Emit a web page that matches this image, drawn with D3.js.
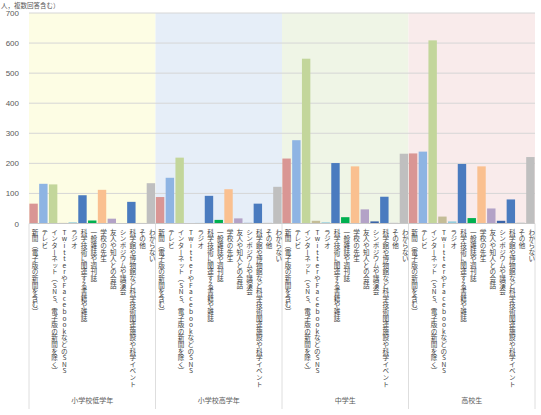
<!DOCTYPE html>
<html><head><meta charset="utf-8">
<script src="https://cdn.jsdelivr.net/npm/d3@7"></script>
<style>
html,body{margin:0;padding:0;background:#fff;}
svg{display:block;font-family:"Noto Sans CJK JP","Noto Sans",sans-serif;}
</style></head>
<body><svg id="c" width="541" height="415"></svg>
<script>
const groups = ["小学校低学年","小学校高学年","中学生","高校生"];
const categories = [
  "新聞（電子版の新聞を含む）",
  "テレビ",
  "インターネット（SNS、電子版の新聞を除く）",
  "TwitterやFacebookなどのSNS",
  "ラジオ",
  "科学技術に関連する書籍や雑誌",
  "一般雑誌や週刊誌",
  "学校の先生",
  "友人や知人との会話",
  "シンポジウムや講演会",
  "科学館や博物館など科学技術関連施設や科学イベント",
  "その他",
  "わからない"
];
const valuesLowerElem  = [66,132,130,2,4,94,10,112,16,1,72,2,134];
const valuesUpperElem  = [88,152,219,1,2,92,12,114,17,2,66,3,122];
const valuesJuniorHigh = [216,277,548,9,4,201,21,190,47,7,89,3,232];
const valuesHighSchool = [233,239,609,23,7,198,18,190,50,9,80,4,221];
const seriesValues = [valuesLowerElem, valuesUpperElem, valuesJuniorHigh, valuesHighSchool];
const yTicks = [0,100,200,300,400,500,600,700];
const unitNote = "人，複数回答含む）";

const barColors = ["#d99694","#8eb4e3","#c3d69b","#c4bd97","#93cddd","#4a7bbf","#00b050","#fac090","#b3a2c7","#3a64a8","#4a7bbf","#d9d9d9","#bfbfbf"];
const bgColors = ["#fdfde4","#e6eef8","#eff5e6","#f9ebeb"];

const svg = d3.select("#c");
const pL = 29, pR = 535, pT = 13, pB = 223.5;

const x0 = d3.scaleBand().domain(groups).range([pL, pR]).padding(0);
const x1 = d3.scaleBand().domain(categories).range([0, x0.bandwidth()]).paddingInner(0.14).paddingOuter(0.04);
const y = d3.scaleLinear().domain([0,700]).range([pB, pT]);

// backgrounds
svg.append("g").selectAll("rect").data(groups).join("rect")
  .attr("x", d => x0(d)).attr("y", pT)
  .attr("width", x0.bandwidth()).attr("height", pB - pT)
  .attr("fill", (d,i) => bgColors[i]);

// gridlines
svg.append("g").selectAll("line").data(yTicks.filter(t => t > 0)).join("line")
  .attr("x1", pL).attr("x2", pR)
  .attr("y1", d => y(d)).attr("y2", d => y(d))
  .attr("stroke", "#d6d6d6").attr("stroke-width", 1);

// y axis labels
const yAxis = d3.axisLeft(y).tickValues(yTicks).tickSize(0).tickPadding(0);
const ya = svg.append("g").attr("transform", `translate(${pL - 10},0)`).call(yAxis);
ya.select(".domain").remove();
ya.selectAll("text").attr("font-size", 8).attr("fill", "#595959")
  .attr("font-family", "Liberation Sans, Arial, sans-serif");

// bars
groups.forEach((g, gi) => {
  svg.append("g").attr("transform", `translate(${x0(g)},0)`)
    .selectAll("rect").data(categories).join("rect")
    .attr("x", d => x1(d))
    .attr("width", x1.bandwidth())
    .attr("y", (d, ci) => y(seriesValues[gi][ci]))
    .attr("height", (d, ci) => pB - y(seriesValues[gi][ci]))
    .attr("fill", (d, ci) => barColors[ci]);
});

// baseline
svg.append("line").attr("x1", pL).attr("x2", pR)
  .attr("y1", pB).attr("y2", pB).attr("stroke", "#c8c8c8");

// group separators
svg.append("g").selectAll("line").data(groups.map(g => x0(g)).concat([pR])).join("line")
  .attr("x1", d => d).attr("x2", d => d)
  .attr("y1", pB).attr("y2", 409)
  .attr("stroke", "#dedede");

// category labels (vertical)
groups.forEach((g, gi) => {
  svg.append("g").selectAll("text").data(categories).join("text")
    .attr("x", d => x0(g) + x1(d) + x1.bandwidth()/2 + 1.5)
    .attr("y", 229)
    .attr("font-size", 6.6)
    .attr("fill", "#404040")
    .style("writing-mode", "vertical-rl")
    .style("text-orientation", "upright")
    .text(d => d);
});

// group labels
svg.append("g").selectAll("text").data(groups).join("text")
  .attr("x", d => x0(d) + x0.bandwidth()/2)
  .attr("y", 403)
  .attr("text-anchor", "middle")
  .attr("font-size", 7)
  .attr("fill", "#595959")
  .text(d => d);

// unit note
svg.append("text").attr("x", 1).attr("y", 8)
  .attr("font-size", 6.5).attr("fill", "#595959").text(unitNote);
</script></body></html>
